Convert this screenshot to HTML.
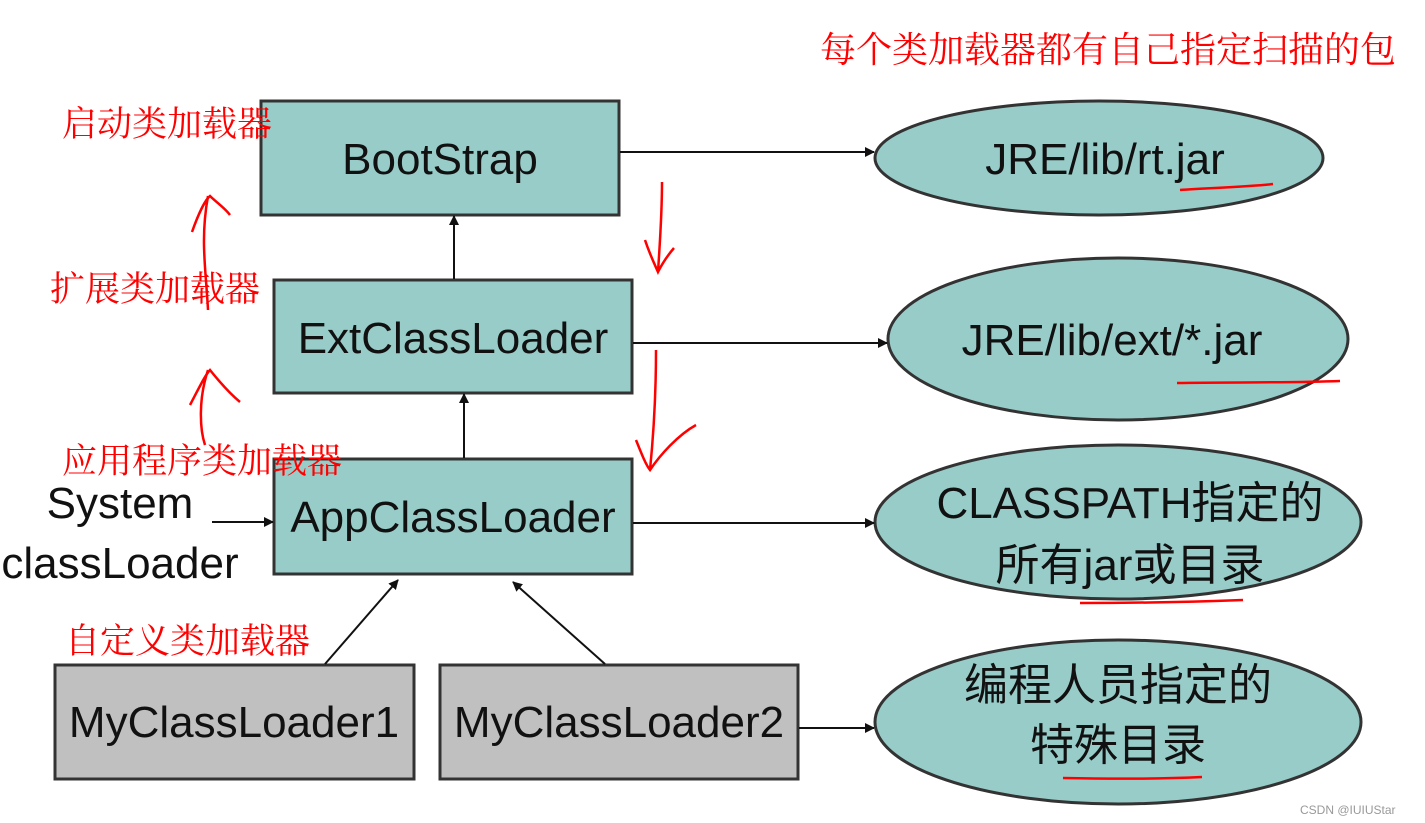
<!DOCTYPE html>
<html><head><meta charset="utf-8"><style>
body{margin:0;background:#fff;width:1425px;height:823px;overflow:hidden}
svg{display:block}
.b{font-family:"Liberation Sans","Noto Sans CJK SC",sans-serif;font-size:44px;fill:#111;text-anchor:middle}
.r{font-family:"Liberation Serif","Noto Serif CJK SC","Noto Sans CJK SC",serif;font-size:35px;fill:#f00}
</style></head><body>
<svg width="1425" height="823" viewBox="0 0 1425 823">
<defs><marker id="a" markerWidth="10" markerHeight="10" refX="9" refY="5" orient="auto" markerUnits="userSpaceOnUse"><path d="M0,0 L10,5 L0,10z" fill="#111"/></marker></defs>
<g stroke="#333" stroke-width="3">
<rect x="261" y="101" width="358" height="114" fill="#98ccc8"/>
<rect x="274" y="280" width="358" height="113" fill="#98ccc8"/>
<rect x="274" y="459" width="358" height="115" fill="#98ccc8"/>
<rect x="55" y="665" width="359" height="114" fill="#c0c0c0"/>
<rect x="440" y="665" width="358" height="114" fill="#c0c0c0"/>
<ellipse cx="1099" cy="158" rx="224" ry="57" fill="#98ccc8"/>
<ellipse cx="1118" cy="339" rx="230" ry="81" fill="#98ccc8"/>
<ellipse cx="1118" cy="522" rx="243" ry="77" fill="#98ccc8"/>
<ellipse cx="1118" cy="722" rx="243" ry="82" fill="#98ccc8"/>
</g>
<g stroke="#111" stroke-width="2" marker-end="url(#a)">
<line x1="620" y1="152" x2="874" y2="152"/>
<line x1="633" y1="343" x2="887" y2="343"/>
<line x1="633" y1="523" x2="874" y2="523"/>
<line x1="799" y1="728" x2="874" y2="728"/>
<line x1="454" y1="279" x2="454" y2="216"/>
<line x1="464" y1="458" x2="464" y2="394"/>
<line x1="325" y1="664" x2="398" y2="580"/>
<line x1="605" y1="664" x2="513" y2="582"/>
<line x1="212" y1="522" x2="273" y2="522"/>
</g>
<text class="b" x="440" y="174">BootStrap</text>
<text class="b" x="453" y="353">ExtClassLoader</text>
<text class="b" x="453" y="532">AppClassLoader</text>
<text class="b" x="234" y="737">MyClassLoader1</text>
<text class="b" x="619" y="737">MyClassLoader2</text>
<text class="b" x="1105" y="174">JRE/lib/rt.jar</text>
<text class="b" x="1112" y="355">JRE/lib/ext/*.jar</text>
<text class="b" x="1130" y="518">CLASSPATH指定的</text>
<text class="b" x="1130" y="580">所有jar或目录</text>
<text class="b" x="1118" y="700">编程人员指定的</text>
<text class="b" x="1118" y="760">特殊目录</text>
<text class="b" x="120" y="518">System</text>
<text class="b" x="120" y="578">classLoader</text>
<text class="r" x="820" y="62" style="font-size:36px">每个类加载器都有自己指定扫描的包</text>
<text class="r" x="62" y="136">启动类加载器</text>
<text class="r" x="50" y="301">扩展类加载器</text>
<text class="r" x="62" y="473">应用程序类加载器</text>
<text class="r" x="65" y="653">自定义类加载器</text>
<g stroke="#f00" stroke-width="2.5" fill="none">
<path d="M208,310 C206,270 200,240 208,196 M192,232 C198,215 205,200 210,196 C216,202 225,208 230,215"/>
<path d="M205,445 C200,430 198,400 208,370 M190,405 C198,390 205,375 210,370 C218,380 228,392 240,402"/>
<path d="M662,182 C662,215 660,240 658,272 M645,240 C650,255 655,265 658,272 C663,262 668,255 674,248"/>
<path d="M656,350 C656,390 654,430 650,470 M636,440 C642,455 646,465 650,470 C660,455 678,435 696,425"/>
<path d="M1180,190 C1210,188 1245,187 1273,184"/>
<path d="M1177,383 C1230,382 1290,383 1340,381"/>
<path d="M1080,603 C1130,603 1190,602 1243,600"/>
<path d="M1063,778 C1110,779 1160,779 1202,777"/>
</g>
<text x="1300" y="814" style="font-family:'Liberation Sans',sans-serif;font-size:12px;fill:#999">CSDN @IUIUStar</text>
</svg>
</body></html>
